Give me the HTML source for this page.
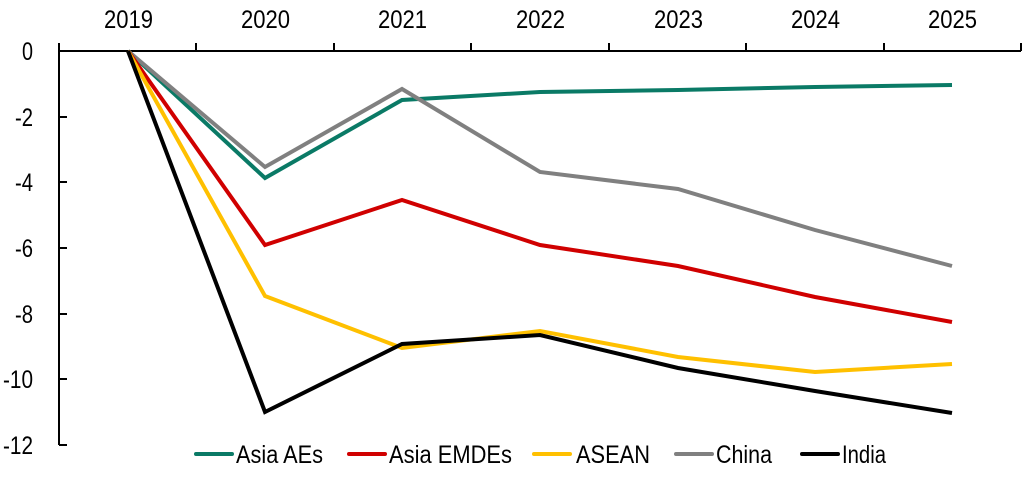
<!DOCTYPE html>
<html><head><style>
body{margin:0;background:#fff}
svg text{font-family:"Liberation Sans",Arial,sans-serif;fill:#000}
</style></head><body>
<svg width="1028" height="480" viewBox="0 0 1028 480" xmlns="http://www.w3.org/2000/svg">
<g stroke="#000" stroke-width="2" fill="none">
<line x1="59" y1="51" x2="1021" y2="51"/>
<line x1="59" y1="43" x2="59" y2="445"/>
<line x1="59" y1="445" x2="67" y2="445"/>
<line x1="59" y1="379" x2="67" y2="379"/>
<line x1="59" y1="314" x2="67" y2="314"/>
<line x1="59" y1="248" x2="67" y2="248"/>
<line x1="59" y1="182" x2="67" y2="182"/>
<line x1="59" y1="117" x2="67" y2="117"/>
<line x1="196" y1="43" x2="196" y2="51"/>
<line x1="334" y1="43" x2="334" y2="51"/>
<line x1="471" y1="43" x2="471" y2="51"/>
<line x1="609" y1="43" x2="609" y2="51"/>
<line x1="746" y1="43" x2="746" y2="51"/>
<line x1="884" y1="43" x2="884" y2="51"/>
<line x1="1021" y1="43" x2="1021" y2="51"/>
</g>
<g font-size="25" lengthAdjust="spacingAndGlyphs">
<text x="104" y="28" textLength="49" lengthAdjust="spacingAndGlyphs">2019</text>
<text x="241" y="28" textLength="49" lengthAdjust="spacingAndGlyphs">2020</text>
<text x="378" y="28" textLength="49" lengthAdjust="spacingAndGlyphs">2021</text>
<text x="516" y="28" textLength="49" lengthAdjust="spacingAndGlyphs">2022</text>
<text x="654" y="28" textLength="49" lengthAdjust="spacingAndGlyphs">2023</text>
<text x="791" y="28" textLength="49" lengthAdjust="spacingAndGlyphs">2024</text>
<text x="928" y="28" textLength="49" lengthAdjust="spacingAndGlyphs">2025</text>
</g>
<g font-size="25">
<text x="22" y="60" textLength="11" lengthAdjust="spacingAndGlyphs">0</text>
<text x="15" y="126" textLength="18" lengthAdjust="spacingAndGlyphs">-2</text>
<text x="15" y="191" textLength="18" lengthAdjust="spacingAndGlyphs">-4</text>
<text x="15" y="257" textLength="18" lengthAdjust="spacingAndGlyphs">-6</text>
<text x="15" y="323" textLength="18" lengthAdjust="spacingAndGlyphs">-8</text>
<text x="3" y="388" textLength="30" lengthAdjust="spacingAndGlyphs">-10</text>
<text x="3" y="454" textLength="30" lengthAdjust="spacingAndGlyphs">-12</text>
</g>
<g fill="none" stroke-width="4" stroke-linejoin="miter">
<polyline stroke="#0a7a66" points="128,51 265,178 402,100 540,92 678,90 815,87 952,85"/>
<polyline stroke="#808080" points="128,51 265,167 402,89 540,172 678,189 815,230 952,266"/>
<polyline stroke="#d00000" points="128,51 265,245 402,200 540,245 678,266 815,297 952,322"/>
<polyline stroke="#ffc000" points="128,51 265,296 402,348 540,331 678,357 815,372 952,364"/>
<polyline stroke="#000" points="128,51 265,412 402,344 540,335 678,368 815,391 952,413"/>
</g>
<g stroke-width="4" stroke-linecap="round">
<line x1="196" y1="454" x2="232" y2="454" stroke="#0a7a66"/>
<line x1="349" y1="454" x2="385" y2="454" stroke="#d00000"/>
<line x1="534" y1="454" x2="570" y2="454" stroke="#ffc000"/>
<line x1="676" y1="454" x2="712" y2="454" stroke="#808080"/>
<line x1="802" y1="454" x2="838" y2="454" stroke="#000"/>
</g>
<g font-size="25">
<text x="236" y="463" textLength="87" lengthAdjust="spacingAndGlyphs">Asia AEs</text>
<text x="389" y="463" textLength="123" lengthAdjust="spacingAndGlyphs">Asia EMDEs</text>
<text x="576" y="463" textLength="74" lengthAdjust="spacingAndGlyphs">ASEAN</text>
<text x="716" y="463" textLength="56" lengthAdjust="spacingAndGlyphs">China</text>
<text x="842" y="463" textLength="44" lengthAdjust="spacingAndGlyphs">India</text>
</g>
</svg>
</body></html>
